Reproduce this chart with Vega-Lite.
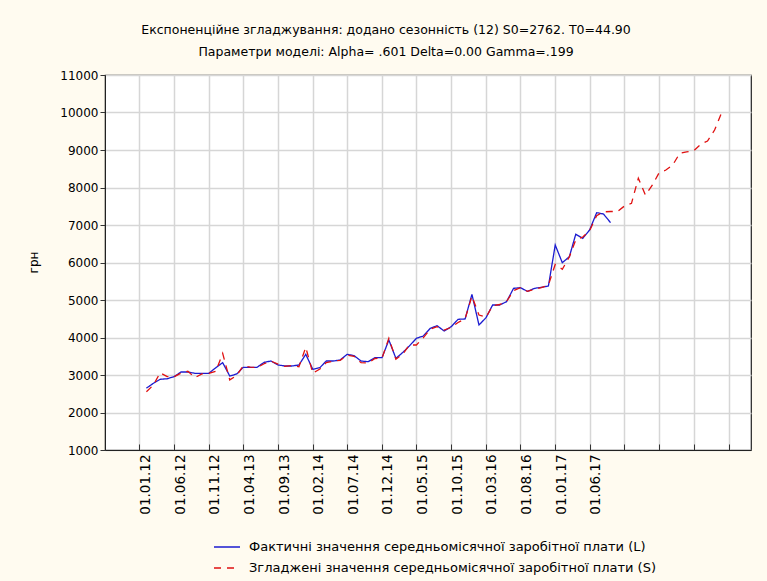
{
  "$schema": "https://vega.github.io/schema/vega-lite/v6.json",
  "width": 646,
  "height": 375,
  "autosize": {"type": "none"},
  "padding": {"left": 105, "top": 75, "right": 16, "bottom": 131},
  "background": "#FFFBF0",
  "config": {
    "font": "DejaVu Sans",
    "view": {"fill": "#FFFFFF", "stroke": "#222222", "strokeWidth": 1.2},
    "axis": {
      "labelFont": "DejaVu Sans",
      "labelFontSize": 12,
      "labelColor": "#000000",
      "titleFont": "DejaVu Sans",
      "titleFontSize": 12,
      "titleFontWeight": "normal",
      "titleColor": "#000000",
      "gridColor": "#D6D6D6",
      "gridWidth": 1.5,
      "domainColor": "#222222",
      "tickColor": "#333333"
    }
  },
  "title": {
    "text": [
      "Експоненційне згладжування: додано сезонність (12) S0=2762. T0=44.90",
      "Параметри моделі: Alpha=  .601 Delta=0.00 Gamma=.199"
    ],
    "font": "DejaVu Sans",
    "fontSize": 12.5,
    "fontWeight": "normal",
    "color": "#000000",
    "anchor": "middle",
    "frame": "group",
    "dx": -42,
    "lineHeight": 22,
    "offset": 11
  },
  "data": {
    "values": [
      {"d": "2012/01/01", "L": 2650, "S": 2555},
      {"d": "2012/02/01", "L": 2780, "S": 2735},
      {"d": "2012/03/01", "L": 2885, "S": 3060},
      {"d": "2012/04/01", "L": 2900, "S": 2955},
      {"d": "2012/05/01", "L": 2955, "S": 2950},
      {"d": "2012/06/01", "L": 3080, "S": 3050},
      {"d": "2012/07/01", "L": 3080, "S": 3100},
      {"d": "2012/08/01", "L": 3045, "S": 2930},
      {"d": "2012/09/01", "L": 3045, "S": 3030},
      {"d": "2012/10/01", "L": 3045, "S": 3040},
      {"d": "2012/11/01", "L": 3195, "S": 3100},
      {"d": "2012/12/01", "L": 3330, "S": 3578},
      {"d": "2013/01/01", "L": 2973, "S": 2870},
      {"d": "2013/02/01", "L": 3027, "S": 2990},
      {"d": "2013/03/01", "L": 3205, "S": 3240},
      {"d": "2013/04/01", "L": 3205, "S": 3210},
      {"d": "2013/05/01", "L": 3205, "S": 3200},
      {"d": "2013/06/01", "L": 3338, "S": 3300},
      {"d": "2013/07/01", "L": 3373, "S": 3370},
      {"d": "2013/08/01", "L": 3267, "S": 3290},
      {"d": "2013/09/01", "L": 3240, "S": 3230},
      {"d": "2013/10/01", "L": 3240, "S": 3250},
      {"d": "2013/11/01", "L": 3267, "S": 3220},
      {"d": "2013/12/01", "L": 3551, "S": 3738},
      {"d": "2014/01/01", "L": 3151, "S": 3045},
      {"d": "2014/02/01", "L": 3195, "S": 3160},
      {"d": "2014/03/01", "L": 3373, "S": 3330},
      {"d": "2014/04/01", "L": 3373, "S": 3370},
      {"d": "2014/05/01", "L": 3400, "S": 3390},
      {"d": "2014/06/01", "L": 3551, "S": 3530},
      {"d": "2014/07/01", "L": 3516, "S": 3500},
      {"d": "2014/08/01", "L": 3373, "S": 3330},
      {"d": "2014/09/01", "L": 3355, "S": 3320},
      {"d": "2014/10/01", "L": 3462, "S": 3440},
      {"d": "2014/11/01", "L": 3462, "S": 3450},
      {"d": "2014/12/01", "L": 3933, "S": 3978},
      {"d": "2015/01/01", "L": 3444, "S": 3420},
      {"d": "2015/02/01", "L": 3605, "S": 3560},
      {"d": "2015/03/01", "L": 3773, "S": 3800},
      {"d": "2015/04/01", "L": 3978, "S": 3800},
      {"d": "2015/05/01", "L": 4040, "S": 3990},
      {"d": "2015/06/01", "L": 4245, "S": 4220},
      {"d": "2015/07/01", "L": 4315, "S": 4290},
      {"d": "2015/08/01", "L": 4173, "S": 4200},
      {"d": "2015/09/01", "L": 4289, "S": 4270},
      {"d": "2015/10/01", "L": 4485, "S": 4400},
      {"d": "2015/11/01", "L": 4494, "S": 4500},
      {"d": "2015/12/01", "L": 5151, "S": 5100},
      {"d": "2016/01/01", "L": 4333, "S": 4600},
      {"d": "2016/02/01", "L": 4529, "S": 4540},
      {"d": "2016/03/01", "L": 4867, "S": 4850},
      {"d": "2016/04/01", "L": 4867, "S": 4880},
      {"d": "2016/05/01", "L": 4955, "S": 4960},
      {"d": "2016/06/01", "L": 5311, "S": 5250},
      {"d": "2016/07/01", "L": 5329, "S": 5330},
      {"d": "2016/08/01", "L": 5230, "S": 5230},
      {"d": "2016/09/01", "L": 5311, "S": 5290},
      {"d": "2016/10/01", "L": 5338, "S": 5330},
      {"d": "2016/11/01", "L": 5373, "S": 5400},
      {"d": "2016/12/01", "L": 6467, "S": 5950},
      {"d": "2017/01/01", "L": 5995, "S": 5820},
      {"d": "2017/02/01", "L": 6155, "S": 6150},
      {"d": "2017/03/01", "L": 6751, "S": 6600},
      {"d": "2017/04/01", "L": 6645, "S": 6680},
      {"d": "2017/05/01", "L": 6867, "S": 6850},
      {"d": "2017/06/01", "L": 7329, "S": 7250},
      {"d": "2017/07/01", "L": 7293, "S": 7350},
      {"d": "2017/08/01", "L": 7062, "S": 7360},
      {"d": "2017/09/01", "L": null, "S": 7360},
      {"d": "2017/10/01", "L": null, "S": 7507},
      {"d": "2017/11/01", "L": null, "S": 7578},
      {"d": "2017/12/01", "L": null, "S": 8250},
      {"d": "2018/01/01", "L": null, "S": 7800},
      {"d": "2018/02/01", "L": null, "S": 8067},
      {"d": "2018/03/01", "L": null, "S": 8378},
      {"d": "2018/04/01", "L": null, "S": 8467},
      {"d": "2018/05/01", "L": null, "S": 8600},
      {"d": "2018/06/01", "L": null, "S": 8911},
      {"d": "2018/07/01", "L": null, "S": 8950},
      {"d": "2018/08/01", "L": null, "S": 8978},
      {"d": "2018/09/01", "L": null, "S": 9150},
      {"d": "2018/10/01", "L": null, "S": 9240},
      {"d": "2018/11/01", "L": null, "S": 9533},
      {"d": "2018/12/01", "L": null, "S": 9978}
    ]
  },
  "transform": [
    {"fold": ["L", "S"], "as": ["series", "value"]},
    {"filter": "datum.value != null"}
  ],
  "mark": {"type": "line", "strokeWidth": 1.3, "interpolate": "linear"},
  "encoding": {
    "x": {
      "field": "d",
      "type": "temporal",
      "scale": {"domain": [{"year": 2011, "month": 7, "date": 3}, {"year": 2019, "month": 4, "date": 10}]},
      "axis": {
        "title": null,
        "values": [
          {"year": 2012, "month": 1, "date": 1},
          {"year": 2012, "month": 6, "date": 1},
          {"year": 2012, "month": 11, "date": 1},
          {"year": 2013, "month": 4, "date": 1},
          {"year": 2013, "month": 9, "date": 1},
          {"year": 2014, "month": 2, "date": 1},
          {"year": 2014, "month": 7, "date": 1},
          {"year": 2014, "month": 12, "date": 1},
          {"year": 2015, "month": 5, "date": 1},
          {"year": 2015, "month": 10, "date": 1},
          {"year": 2016, "month": 3, "date": 1},
          {"year": 2016, "month": 8, "date": 1},
          {"year": 2017, "month": 1, "date": 1},
          {"year": 2017, "month": 6, "date": 1},
          {"year": 2017, "month": 11, "date": 1},
          {"year": 2018, "month": 4, "date": 1},
          {"year": 2018, "month": 9, "date": 1},
          {"year": 2019, "month": 2, "date": 1}
        ],
        "labelExpr": "datum.value > datetime(2017, 6, 1) ? '' : timeFormat(datum.value, '01.%m.%y')",
        "labelAngle": -90,
        "labelAlign": "right",
        "labelBaseline": "middle",
        "labelFontSize": 13.5,
        "labelPadding": 10,
        "labelOverlap": false,
        "labelFlush": false,
        "tickOffset": -7,
        "labelOffset": 6,
        "tickSize": -6,
        "grid": true
      }
    },
    "y": {
      "field": "value",
      "type": "quantitative",
      "scale": {"domain": [1000, 11000], "nice": false, "zero": false},
      "axis": {
        "title": "грн",
        "values": [1000, 2000, 3000, 4000, 5000, 6000, 7000, 8000, 9000, 10000, 11000],
        "format": "d",
        "tickSize": 5,
        "labelPadding": 2,
        "titleX": -72,
        "titleY": 187,
        "titleAngle": -90,
        "titleAlign": "center",
        "titleBaseline": "middle",
        "grid": true
      }
    },
    "color": {
      "field": "series",
      "type": "nominal",
      "scale": {"domain": ["L", "S"], "range": ["#1C1CD0", "#E01010"]},
      "legend": {
        "title": null,
        "orient": "none",
        "legendX": 108,
        "legendY": 458,
        "direction": "vertical",
        "symbolType": "stroke",
        "symbolSize": 676,
        "symbolStrokeWidth": 1.3,
        "rowPadding": -9,
        "labelOffset": 8,
        "labelFont": "DejaVu Sans",
        "labelFontSize": 13,
        "labelColor": "#000000",
        "labelLimit": 600,
        "labelExpr": "datum.label == 'L' ? 'Фактичні значення середньомісячної заробітної плати (L)' : 'Згладжені значення середньомісячної заробітної плати (S)'"
      }
    },
    "strokeDash": {
      "field": "series",
      "type": "nominal",
      "scale": {"domain": ["L", "S"], "range": [[1, 0], [7, 6]]},
      "legend": {
        "title": null,
        "orient": "none",
        "legendX": 108,
        "legendY": 458,
        "direction": "vertical",
        "symbolType": "stroke",
        "symbolSize": 676,
        "symbolStrokeWidth": 1.3,
        "rowPadding": -9,
        "labelOffset": 8,
        "labelFont": "DejaVu Sans",
        "labelFontSize": 13,
        "labelColor": "#000000",
        "labelLimit": 600,
        "labelExpr": "datum.label == 'L' ? 'Фактичні значення середньомісячної заробітної плати (L)' : 'Згладжені значення середньомісячної заробітної плати (S)'"
      }
    }
  }
}
